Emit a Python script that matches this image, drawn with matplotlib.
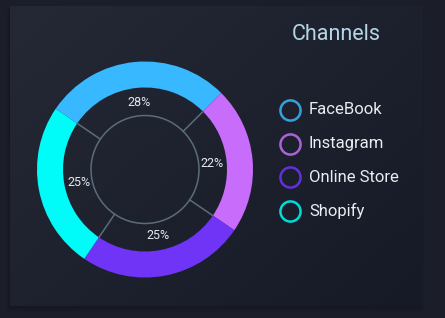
import matplotlib
matplotlib.use("Agg")
import matplotlib.pyplot as plt
from matplotlib.patches import Rectangle, Circle
import numpy as np

channels = ["FaceBook", "Instagram", "Online Store", "Shopify"]
shares = [28, 22, 25, 25]
colors = ["#38b8ff", "#c86cfb", "#7034f6", "#00fcf8"]
title = "Channels"

W, H = 445, 318
fig = plt.figure(figsize=(W / 100, H / 100), dpi=100)
fig.patch.set_facecolor("#1b1e29")

# background axes in pixel coords
bg = fig.add_axes([0, 0, 1, 1])
bg.set_xlim(0, W)
bg.set_ylim(H, 0)
bg.axis("off")

# panel shadow
for i, a in enumerate([0.10, 0.08, 0.06, 0.04]):
    bg.add_patch(Rectangle((10 - 1 - i, 6 + 2 + i), 413 + 2 * i, 300 + i,
                           facecolor="#0b0d14", edgecolor="none", alpha=a))

# panel gradient (top-left lighter)
yy, xx = np.mgrid[0:1:100j, 0:1:100j]
t = (xx * 0.55 + yy * 0.45)
c0 = np.array([0x25, 0x29, 0x35]) / 255
c1 = np.array([0x16, 0x1a, 0x26]) / 255
img = c0[None, None, :] * (1 - t[..., None]) + c1[None, None, :] * t[..., None]
bg.imshow(img, extent=(10, 423, 306, 6), aspect="auto", zorder=1)

# donut axes
cx, cy, half = 145, 169.5, 125
ax = fig.add_axes([(cx - half) / W, (H - cy - half) / H, 2 * half / W, 2 * half / H])
ax.set_xlim(-half, half)
ax.set_ylim(-half, half)
ax.axis("off")

R, width, r_in = 108, 26, 54
start = 45 + shares[0] * 3.6
wedges, texts, autotexts = ax.pie(
    shares, colors=colors, radius=R, startangle=start, counterclock=False,
    wedgeprops=dict(width=width, edgecolor="none"),
    autopct="%d%%", pctdistance=67 / R,
    textprops=dict(color="#e4e9f0", fontsize=9, family=["Roboto", "DejaVu Sans"]))
ax.set_xlim(-half, half)
ax.set_ylim(-half, half)

ax.add_patch(Circle((0, 0), r_in, fill=False, edgecolor="#5c6c7a", lw=1.1))
ang = start
for s in shares:
    th = np.deg2rad(ang)
    ax.plot([r_in * np.cos(th), (R - width) * np.cos(th)],
            [r_in * np.sin(th), (R - width) * np.sin(th)],
            color="#5c6c7a", lw=1.1)
    ang -= s * 3.6

# title and legend
bg.text(336, 35, title, color="#b6d6e6", fontsize=15.5, ha="center", va="center",
        family=["Roboto", "DejaVu Sans"], zorder=5)
for i, (name, col) in enumerate(zip(channels, colors)):
    y = 110 + i * 33.5
    bg.plot(290, y, marker="o", ms=14.5, mfc="none", mec=col, mew=1.8, alpha=0.85, zorder=5)
    bg.text(309, y, name, color="#e8edf2", fontsize=12, va="center",
            family=["Roboto", "DejaVu Sans"], zorder=5)

fig.savefig("out.png", dpi=100, facecolor=fig.get_facecolor())
